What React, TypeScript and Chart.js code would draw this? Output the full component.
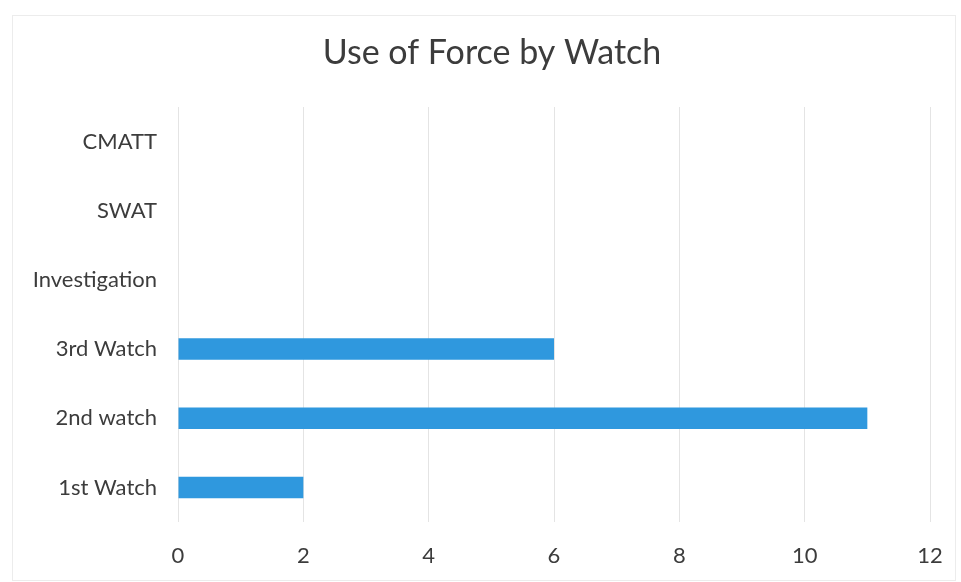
import React, { useEffect, useRef } from "react";
import { Chart, registerables } from "chart.js";

Chart.register(...registerables);

const categories = ["CMATT", "SWAT", "Investigation", "3rd Watch", "2nd watch", "1st Watch"];
const incidents = [0, 0, 0, 6, 11, 2];
const xTicks = [0, 2, 4, 6, 8, 10, 12];
const chartTitle = "Use of Force by Watch";

const FONT = "Lato, 'Open Sans', sans-serif";
const TEXT = "#3c3c3c";
const BAR = "#2f98de";

// Title drawn centred slightly right of the canvas middle, above the plot area.
const titlePlugin = {
  id: "offsetTitle",
  afterDraw(chart: any) {
    const ctx = chart.ctx;
    ctx.save();
    ctx.font = `normal 34px ${FONT}`;
    ctx.fillStyle = TEXT;
    ctx.textAlign = "center";
    ctx.textBaseline = "middle";
    ctx.fillText(chartTitle, 492, 53);
    ctx.restore();
  },
};

export default function App() {
  const canvasRef = useRef<HTMLCanvasElement | null>(null);

  useEffect(() => {
    document.body.style.margin = "0";
    const canvas = canvasRef.current;
    if (!canvas) return;
    const chart = new Chart(canvas, {
      type: "bar",
      data: {
        labels: categories,
        datasets: [
          {
            data: incidents,
            backgroundColor: BAR,
            borderWidth: 0,
            categoryPercentage: 1,
            barPercentage: 0.31,
          },
        ],
      },
      options: {
        indexAxis: "y",
        animation: false,
        responsive: false,
        maintainAspectRatio: false,
        layout: { padding: { left: 0, right: 31, top: 107, bottom: 0 } },
        plugins: {
          legend: { display: false },
          tooltip: { enabled: false },
          title: { display: false },
        },
        scales: {
          x: {
            min: 0,
            max: 12,
            afterBuildTicks: (scale: any) => {
              scale.ticks = xTicks.map((v) => ({ value: v }));
            },
            afterFit: (scale: any) => {
              scale.height = 60;
              scale.paddingLeft = 0;
              scale.paddingRight = 0;
            },
            grid: { color: "#e4e4e4", drawTicks: false, lineWidth: 1 },
            border: { display: false },
            ticks: {
              color: TEXT,
              padding: 21,
              font: { family: FONT, size: 22 },
            },
          },
          y: {
            afterFit: (scale: any) => {
              scale.width = 178;
            },
            grid: { display: false, drawTicks: false },
            border: { display: false },
            ticks: {
              color: TEXT,
              padding: 21,
              font: { family: FONT, size: 22 },
            },
          },
        },
      },
      plugins: [titlePlugin],
    });
    return () => chart.destroy();
  }, []);

  return (
    <div style={{ position: "relative", width: 961, height: 582, background: "#fff", overflow: "hidden" }}>
      <div
        style={{
          position: "absolute",
          left: 12,
          top: 15,
          width: 944,
          height: 566,
          border: "1px solid #ececec",
          boxSizing: "border-box",
        }}
      />
      <canvas ref={canvasRef} width={961} height={582} style={{ position: "absolute", left: 0, top: 0 }} />
    </div>
  );
}
